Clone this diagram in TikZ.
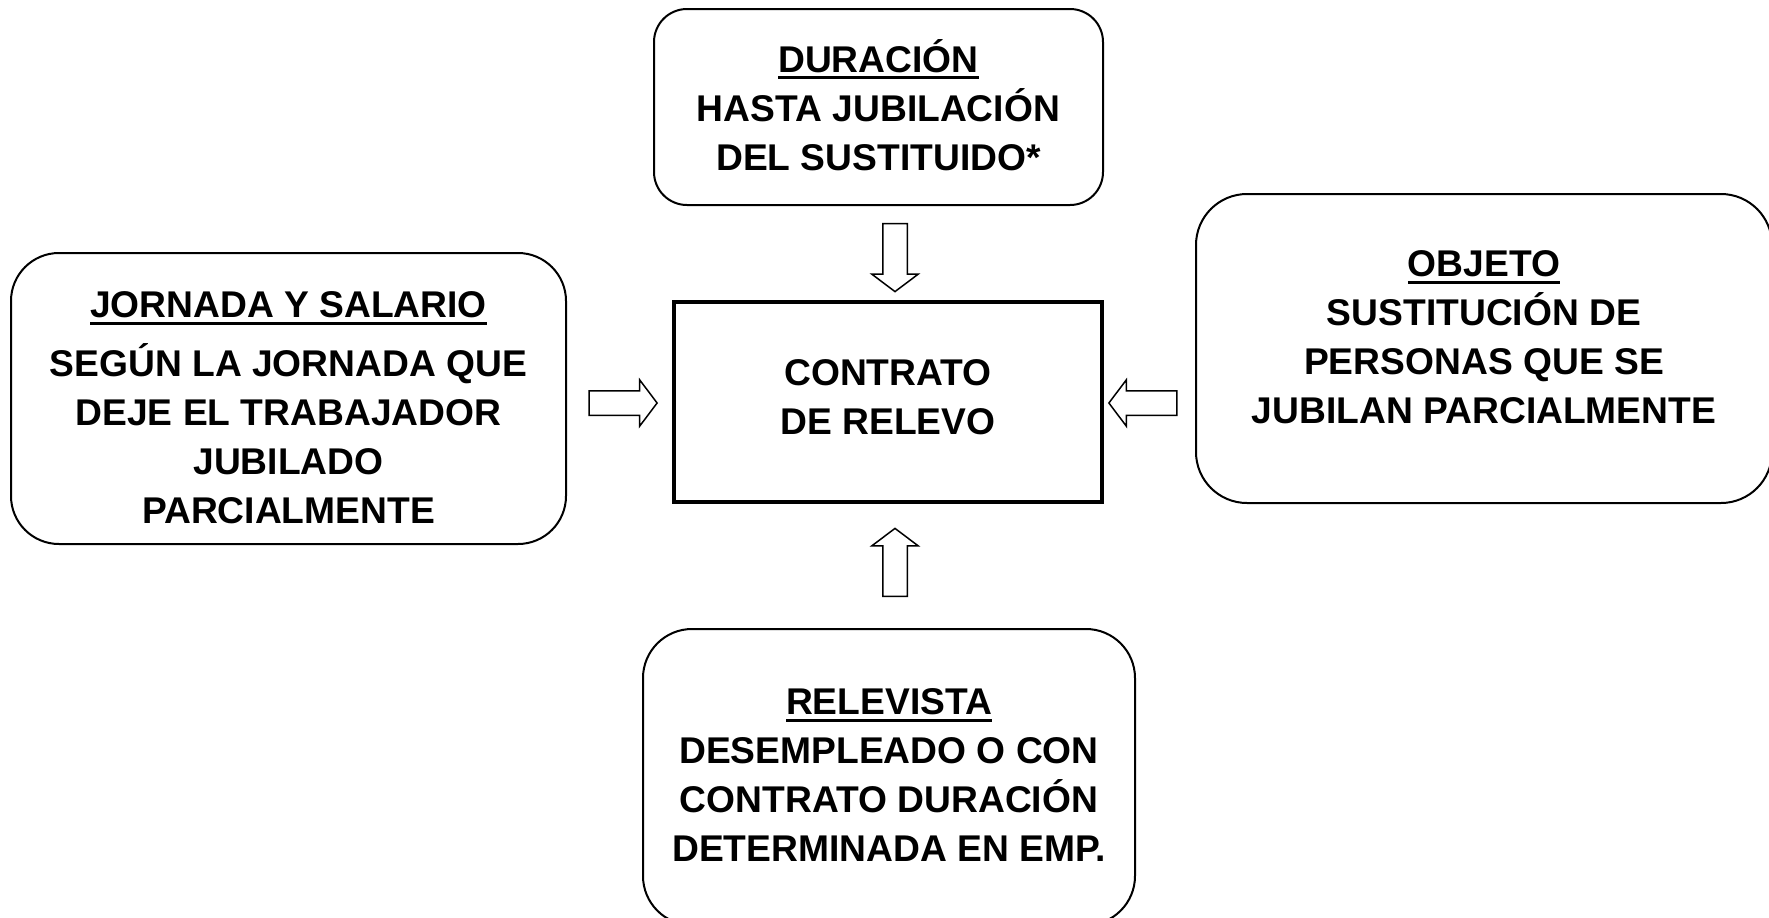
\documentclass[tikz,border=0pt]{standalone}
\usepackage{fontspec}
\setmainfont{Liberation Sans}
\usetikzlibrary{shapes.arrows}
\newsavebox\titbox
\newcommand\titulo[1]{\sbox\titbox{#1}\rlap{\rule[-3.5pt]{\wd\titbox}{1.5pt}}\usebox\titbox}
\tikzset{
  caja/.style={draw, line width=1pt, rounded corners=#1, inner sep=0pt},
  central/.style={draw, line width=2pt, inner sep=0pt},
  texto/.style={align=center, inner sep=0pt,
    font=\fontsize{18.6}{24.5}\selectfont\bfseries},
  flecha/.style={draw, line width=0.75pt, single arrow, single arrow head extend=5.5pt,
    single arrow tip angle=106, minimum height=34pt, inner sep=5.75pt, outer sep=0pt},
}
\begin{document}
\begin{tikzpicture}[x=0.5pt,y=-0.5pt]
  \useasboundingbox (0,0) rectangle (1769,917);
  \clip (0,0) rectangle (1769,917);
  \fill[white] (0,0) rectangle (1769,917);

  % cajas
  \node[central, minimum width=214pt, minimum height=100pt] (contrato) at (888,402) {};
  \node[caja=16.5pt, minimum width=224.5pt, minimum height=98pt] (duracion) at (878.5,107) {};
  \node[caja=24pt, minimum width=277.5pt, minimum height=145.5pt] (jornada) at (288.5,398.5) {};
  \node[caja=25.5pt, minimum width=288pt, minimum height=154.5pt] (objeto) at (1484,348.5) {};
  \node[caja=24.5pt, minimum width=246pt, minimum height=148pt] (relevista) at (889,777) {};

  % textos
  \node[texto] (contrato-t) at ([yshift=2.2pt]contrato.center) {CONTRATO\\DE RELEVO};
  \node[texto] (duracion-t) at ([yshift=1pt]duracion.center)
    {\titulo{DURACIÓN}\\HASTA JUBILACIÓN\\DEL SUSTITUIDO*};
  \node[texto] (jornada-t) at ([yshift=-4.8pt]jornada.center)
    {\titulo{JORNADA Y SALARIO}\\[5pt]SEGÚN LA JORNADA QUE\\DEJE EL TRABAJADOR\\JUBILADO\\PARCIALMENTE};
  \node[texto] (objeto-t) at ([yshift=5.5pt]objeto.center)
    {\titulo{OBJETO}\\SUSTITUCIÓN DE\\PERSONAS QUE SE\\JUBILAN PARCIALMENTE};
  \node[texto] (relevista-t) at ([yshift=1pt]relevista.center)
    {\titulo{RELEVISTA}\\DESEMPLEADO O CON\\CONTRATO DURACIÓN\\DETERMINADA EN EMP.};

  % flechas hacia el contrato
  \node[flecha, rotate=-90] (f1) at (895,253) {};
  \node[flecha] (f2) at (618.5,403) {};
  \node[flecha, rotate=180] (f3) at (1147.5,403) {};
  \node[flecha, rotate=90] (f4) at (895,567) {};
\end{tikzpicture}
\end{document}
